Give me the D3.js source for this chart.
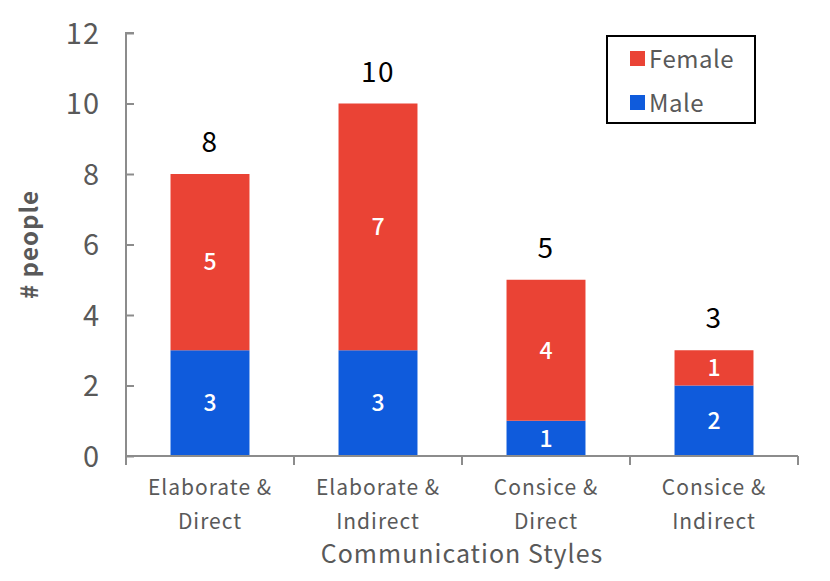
<!DOCTYPE html>
<html>
<head>
<meta charset="utf-8">
<script src="https://cdn.jsdelivr.net/npm/d3@7"></script>
<style>
  body { margin: 0; background: #fff; }
  svg { font-family: "Noto Sans CJK JP", "Noto Sans", sans-serif; }
</style>
</head>
<body>
<svg id="chart" width="830" height="581"></svg>
<script>
var categories = [['Elaborate &', 'Direct'], ['Elaborate &', 'Indirect'], ['Consice &', 'Direct'], ['Consice &', 'Indirect']]
var male = [3, 3, 1, 2]
var female = [5, 7, 4, 1]
var yTicks = [0, 2, 4, 6, 8, 10, 12]
var seriesNames = ['Female', 'Male']
var colors = { Male: '#0f5bdc', Female: '#ea4335' }

var svg = d3.select('#chart')
var mLeft = 126, mRight = 798, mTop = 33, mBottom = 456

var x = d3.scaleBand().domain(d3.range(categories.length)).range([mLeft, mRight]).paddingInner(0.53).paddingOuter(0.265)
var xb = d3.scaleBand().domain(d3.range(categories.length)).range([mLeft, mRight])
var y = d3.scaleLinear().domain([0, 12]).range([mBottom, mTop])

var rows = categories.map(function (c, i) {
    return { i: i, Male: male[i], Female: female[i] }
})
var stack = d3.stack().keys(['Male', 'Female'])(rows)

// bars
svg.append('g').selectAll('g').data(stack).enter().append('g')
    .attr('fill', function (d) { return colors[d.key] })
    .selectAll('rect').data(function (d) { return d }).enter().append('rect')
    .attr('x', function (d) { return x(d.data.i) })
    .attr('width', x.bandwidth())
    .attr('y', function (d) { return y(d[1]) })
    .attr('height', function (d) { return y(d[0]) - y(d[1]) })

// values inside
svg.append('g').selectAll('g').data(stack).enter().append('g')
    .selectAll('text').data(function (d) { return d }).enter().append('text')
    .attr('x', function (d) { return x(d.data.i) + x.bandwidth() / 2 })
    .attr('y', function (d) { return (y(d[0]) + y(d[1])) / 2 })
    .attr('dy', '0.36em')
    .attr('text-anchor', 'middle')
    .attr('fill', '#fff')
    .attr('font-size', 23)
    .attr('font-weight', 500)
    .text(function (d) { return d[1] - d[0] })

// totals
svg.append('g').selectAll('text').data(rows).enter().append('text')
    .attr('x', function (d) { return x(d.i) + x.bandwidth() / 2 })
    .attr('y', function (d) { return y(d.Male + d.Female) - 22 })
    .attr('text-anchor', 'middle')
    .attr('fill', '#000')
    .attr('font-size', 28)
    .attr('letter-spacing', 1.5)
    .text(function (d) { return d.Male + d.Female })

// y axis
var yAxis = svg.append('g')
    .attr('transform', 'translate(' + mLeft + ',0)')
    .call(d3.axisRight(y).tickValues(yTicks).tickSize(8).tickPadding(0).tickFormat(d3.format('d')))
yAxis.select('.domain').attr('stroke', '#8c8c8c').attr('stroke-width', 2).attr('d', 'M8,' + mTop + 'H0V' + mBottom)
yAxis.selectAll('.tick line').attr('stroke', '#8c8c8c').attr('stroke-width', 2)
yAxis.selectAll('.tick text')
    .attr('x', -26)
    .attr('dy', '0.36em')
    .attr('text-anchor', 'end')
    .attr('fill', '#595959')
    .attr('font-size', 29)
    .attr('letter-spacing', 1)
    .attr('font-family', '"Noto Sans CJK JP", sans-serif')

// x axis
svg.append('line')
    .attr('x1', mLeft).attr('x2', mRight)
    .attr('y1', mBottom).attr('y2', mBottom)
    .attr('stroke', '#8c8c8c').attr('stroke-width', 2)
svg.append('g').selectAll('line').data(d3.range(categories.length + 1)).enter().append('line')
    .attr('x1', function (d) { return mLeft + d * xb.bandwidth() })
    .attr('x2', function (d) { return mLeft + d * xb.bandwidth() })
    .attr('y1', mBottom).attr('y2', mBottom + 9)
    .attr('stroke', '#8c8c8c').attr('stroke-width', 2)

var catLabels = svg.append('g').selectAll('text').data(categories).enter().append('text')
    .attr('text-anchor', 'middle')
    .attr('fill', '#595959')
    .attr('font-size', 21)
    .attr('letter-spacing', 1)
catLabels.selectAll('tspan').data(function (d, i) { return d.map(function (t) { return { t: t, i: i } }) }).enter().append('tspan')
    .attr('x', function (d) { return xb(d.i) + xb.bandwidth() / 2 })
    .attr('y', function (d, j) { return 495 + j * 34 })
    .text(function (d) { return d.t })

// axis titles
svg.append('text')
    .attr('x', (mLeft + mRight) / 2)
    .attr('y', 563)
    .attr('text-anchor', 'middle')
    .attr('fill', '#595959')
    .attr('font-size', 25)
    .attr('letter-spacing', 1)
    .text('Communication Styles')

svg.append('text')
    .attr('transform', 'translate(38,' + (mTop + mBottom) / 2 + ') rotate(-90)')
    .attr('text-anchor', 'middle')
    .attr('fill', '#595959')
    .attr('font-size', 24)
    .attr('font-weight', 'bold')
    .attr('letter-spacing', 1)
    .text('# people')

// legend
var legend = svg.append('g').attr('transform', 'translate(607,36)')
legend.append('rect')
    .attr('width', 148).attr('height', 87)
    .attr('fill', '#fff').attr('stroke', '#000').attr('stroke-width', 2)
var li = legend.selectAll('g.item').data(seriesNames).enter().append('g')
    .attr('class', 'item')
    .attr('transform', function (d, i) { return 'translate(23,' + (15 + i * 44) + ')' })
li.append('rect').attr('width', 15).attr('height', 15).attr('fill', function (d) { return colors[d] })
li.append('text')
    .attr('x', 19).attr('y', 8).attr('dy', '0.36em')
    .attr('fill', '#595959')
    .attr('font-size', 24)
    .attr('letter-spacing', 0.5)
    .text(function (d) { return d })
</script>
</body>
</html>
